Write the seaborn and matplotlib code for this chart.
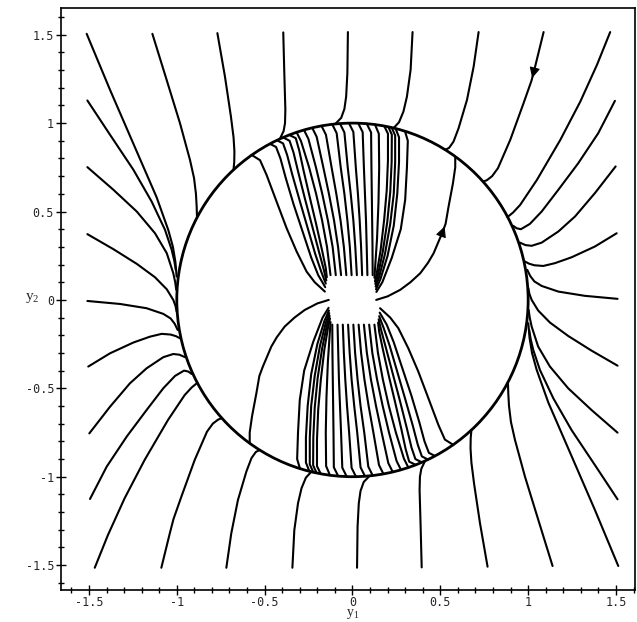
import pandas as pd
import seaborn as sns
import matplotlib.pyplot as plt
from matplotlib.ticker import MultipleLocator, FuncFormatter

# The portrait is point-symmetric about the origin, so the lower half
# is drawn as the mirror image of these.

# curves starting on the top edge y2 = 1.5 (left to right)
top_edge = [
    [(-1.513, 1.505), (-1.380, 1.188), (-1.247, 0.883), (-1.115, 0.581), (-1.048, 0.394), (-1.022, 0.300), (-1.008, 0.215), (-1.001, 0.132)],
    [(-1.139, 1.505), (-1.058, 1.245), (-0.982, 1.000), (-0.925, 0.792), (-0.902, 0.690), (-0.891, 0.600), (-0.887, 0.530), (-0.885, 0.470)],
    [(-0.769, 1.509), (-0.726, 1.264), (-0.692, 1.038), (-0.677, 0.920), (-0.672, 0.840), (-0.673, 0.780), (-0.677, 0.738)],
    [(-0.394, 1.513), (-0.388, 1.283), (-0.382, 1.075), (-0.384, 1.000), (-0.392, 0.955), (-0.413, 0.911)],
    [(-0.026, 1.515), (-0.029, 1.283), (-0.036, 1.150), (-0.046, 1.080), (-0.064, 1.030), (-0.098, 0.995)],
    [(0.342, 1.515), (0.331, 1.302), (0.310, 1.150), (0.290, 1.065), (0.265, 1.005), (0.234, 0.972)],
    [(0.718, 1.515), (0.690, 1.321), (0.652, 1.132), (0.604, 0.971), (0.575, 0.895), (0.550, 0.860), (0.528, 0.849)],
    [(1.088, 1.515), (1.040, 1.321), (1.019, 1.240), (0.974, 1.113), (0.898, 0.905), (0.828, 0.745), (0.795, 0.700), (0.765, 0.677), (0.743, 0.669)],
    [(1.467, 1.515), (1.392, 1.330), (1.297, 1.122), (1.183, 0.905), (1.050, 0.679), (0.955, 0.538), (0.915, 0.495), (0.883, 0.469)],
]

# curves starting on the left edge y1 = -1.5 (top to bottom, corners excluded)
left_edge = [
    [(-1.509, 1.128), (-1.380, 0.934), (-1.247, 0.736), (-1.143, 0.556), (-1.067, 0.396), (-1.029, 0.283), (-1.014, 0.220), (-1.006, 0.170)],
    [(-1.509, 0.751), (-1.361, 0.623), (-1.228, 0.500), (-1.124, 0.377), (-1.057, 0.264), (-1.020, 0.151), (-1.009, 0.100), (-1.003, 0.057)],
    [(-1.509, 0.372), (-1.361, 0.287), (-1.228, 0.204), (-1.124, 0.128), (-1.057, 0.060), (-1.020, 0.000), (-1.007, -0.035), (-1.001, -0.066)],
    [(-1.509, -0.006), (-1.323, -0.023), (-1.172, -0.047), (-1.077, -0.079), (-1.035, -0.105), (-1.012, -0.135), (-0.995, -0.170)],
    [(-1.504, -0.377), (-1.380, -0.302), (-1.247, -0.241), (-1.153, -0.208), (-1.086, -0.192), (-1.035, -0.196), (-1.005, -0.205), (-0.982, -0.217)],
    [(-1.498, -0.755), (-1.380, -0.604), (-1.267, -0.472), (-1.172, -0.387), (-1.077, -0.324), (-1.020, -0.306), (-0.985, -0.310), (-0.953, -0.324)],
    [(-1.494, -1.126), (-1.399, -0.943), (-1.285, -0.773), (-1.172, -0.623), (-1.077, -0.500), (-1.010, -0.430), (-0.959, -0.400), (-0.935, -0.405), (-0.915, -0.419)],
]

# curves leaving the small square round the origin, upper fan (left to right)
inner_fan = [
    [(-0.157, 0.047), (-0.215, 0.100), (-0.261, 0.160), (-0.318, 0.274), (-0.375, 0.406), (-0.432, 0.556), (-0.489, 0.707), (-0.526, 0.790), (-0.574, 0.820)],
    [(-0.155, 0.072), (-0.195, 0.140), (-0.235, 0.240), (-0.285, 0.390), (-0.335, 0.540), (-0.380, 0.690), (-0.410, 0.800), (-0.435, 0.865), (-0.470, 0.883)],
    [(-0.152, 0.092), (-0.178, 0.160), (-0.212, 0.260), (-0.256, 0.410), (-0.300, 0.560), (-0.343, 0.710), (-0.372, 0.820), (-0.395, 0.885), (-0.430, 0.903)],
    [(-0.149, 0.110), (-0.163, 0.170), (-0.190, 0.270), (-0.230, 0.420), (-0.270, 0.570), (-0.308, 0.720), (-0.336, 0.835), (-0.358, 0.900), (-0.395, 0.919)],
    [(-0.146, 0.128), (-0.152, 0.180), (-0.173, 0.280), (-0.207, 0.430), (-0.243, 0.580), (-0.278, 0.730), (-0.303, 0.845), (-0.323, 0.915), (-0.360, 0.933)],
    [(-0.125, 0.140), (-0.145, 0.300), (-0.173, 0.450), (-0.207, 0.600), (-0.247, 0.750), (-0.293, 0.898), (-0.318, 0.948)],
    [(-0.095, 0.140), (-0.113, 0.300), (-0.140, 0.450), (-0.172, 0.600), (-0.208, 0.750), (-0.251, 0.911), (-0.276, 0.961)],
    [(-0.065, 0.140), (-0.082, 0.300), (-0.105, 0.450), (-0.134, 0.600), (-0.166, 0.750), (-0.204, 0.923), (-0.229, 0.973)],
    [(-0.035, 0.140), (-0.049, 0.300), (-0.068, 0.450), (-0.092, 0.600), (-0.119, 0.750), (-0.151, 0.934), (-0.176, 0.984)],
    [(-0.005, 0.140), (-0.015, 0.300), (-0.029, 0.450), (-0.046, 0.600), (-0.067, 0.750), (-0.090, 0.943), (-0.115, 0.993)],
    [(0.025, 0.140), (0.016, 0.300), (0.005, 0.450), (-0.010, 0.600), (-0.027, 0.750), (-0.046, 0.947), (-0.071, 0.997)],
    [(0.055, 0.140), (0.049, 0.300), (0.041, 0.450), (0.031, 0.600), (0.019, 0.750), (0.005, 0.950), (-0.020, 1.000)],
    [(0.085, 0.140), (0.081, 0.300), (0.077, 0.450), (0.071, 0.600), (0.065, 0.750), (0.058, 0.949), (0.033, 0.999)],
    [(0.115, 0.140), (0.114, 0.300), (0.112, 0.450), (0.110, 0.600), (0.108, 0.750), (0.106, 0.947), (0.081, 0.997)],
    [(0.125, 0.125), (0.130, 0.200), (0.140, 0.350), (0.148, 0.550), (0.152, 0.750), (0.150, 0.940), (0.128, 0.992)],
    [(0.128, 0.105), (0.138, 0.150), (0.160, 0.280), (0.180, 0.450), (0.195, 0.620), (0.202, 0.790), (0.202, 0.940), (0.181, 0.983)],
    [(0.130, 0.090), (0.145, 0.140), (0.172, 0.270), (0.198, 0.440), (0.215, 0.610), (0.223, 0.780), (0.224, 0.935), (0.204, 0.979)],
    [(0.132, 0.075), (0.152, 0.130), (0.185, 0.260), (0.215, 0.430), (0.235, 0.600), (0.243, 0.780), (0.243, 0.930), (0.223, 0.975)],
    [(0.134, 0.060), (0.160, 0.120), (0.200, 0.250), (0.235, 0.420), (0.255, 0.600), (0.265, 0.780), (0.265, 0.920), (0.245, 0.970)],
    [(0.136, 0.045), (0.170, 0.100), (0.223, 0.236), (0.275, 0.400), (0.300, 0.566), (0.310, 0.750), (0.315, 0.900), (0.299, 0.954)],
]

# the curve leaving the square to the right, which carries the inner arrow
arrow_curve = [(0.135, 0.000), (0.200, 0.020), (0.272, 0.057), (0.330, 0.100), (0.386, 0.151), (0.430, 0.210),
               (0.462, 0.264), (0.490, 0.330), (0.510, 0.377), (0.530, 0.430), (0.547, 0.528), (0.572, 0.660),
               (0.585, 0.750), (0.585, 0.810)]

limit_cycle_radius = 1.0
tick_values = [-1.5, -1, -0.5, 0, 0.5, 1, 1.5]

curves = top_edge + left_edge + inner_fan + [arrow_curve]
rows = []
for k, pts in enumerate(curves):
    for y1, y2 in pts:
        rows.append({"curve": k, "y1": y1, "y2": y2})
        rows.append({"curve": k + len(curves), "y1": -y1, "y2": -y2})
df = pd.DataFrame(rows)

sns.set_theme(style="white")
plt.rcParams["font.family"] = ["DejaVu Sans Mono", "DejaVu Sans"]
plt.rcParams["axes.unicode_minus"] = False
plt.rcParams["mathtext.default"] = "regular"

fig = plt.figure(figsize=(6.37, 6.22), dpi=100)
ax = fig.add_axes([0.0958, 0.0514, 0.901, 0.936])

sns.lineplot(data=df, x="y1", y="y2", units="curve", estimator=None, sort=False,
             color="black", linewidth=1.5, legend=False, ax=ax)
ax.add_patch(plt.Circle((0, 0), limit_cycle_radius, fill=False, color="black", lw=2.0))

# arrowheads showing the direction of motion
for pts, i in [(top_edge[7], 1), (arrow_curve, 8)]:
    ax.annotate("", xy=pts[i + 1], xytext=pts[i],
                arrowprops=dict(arrowstyle="-|>", color="black", lw=0.8, mutation_scale=16))

ax.set_xlim(-1.659, 1.608)
ax.set_ylim(-1.641, 1.652)

fmt = FuncFormatter(lambda v, _: f"{v:g}")
for axis in (ax.xaxis, ax.yaxis):
    axis.set_major_locator(plt.FixedLocator(tick_values))
    axis.set_minor_locator(MultipleLocator(0.1))
    axis.set_major_formatter(fmt)
ax.tick_params(which="major", direction="inout", length=7, width=1.0, labelsize=8.5, pad=1.5, color="black")
ax.tick_params(which="minor", direction="inout", length=4, width=1.0, color="black")
ax.tick_params(axis="x", which="both", bottom=True, top=False, pad=0.8)
ax.tick_params(axis="y", which="both", left=True, right=False)

for side in ax.spines.values():
    side.set_color("black")
    side.set_linewidth(1.2)

ax.set_xlabel("y$_1$", fontsize=10, family="Liberation Serif")
ax.set_ylabel("y$_2$", fontsize=11, family="Liberation Serif", rotation=0)
ax.xaxis.set_label_coords(0.509, -0.030)
ax.yaxis.set_label_coords(-0.05, 0.49)

fig.savefig("out.png", dpi=100)
